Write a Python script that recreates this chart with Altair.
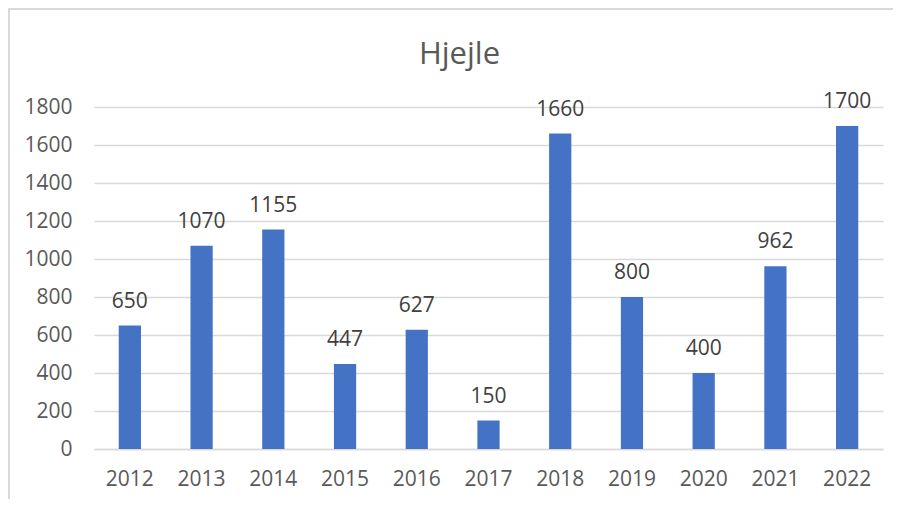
import altair as alt
import pandas as pd

years = ["2012", "2013", "2014", "2015", "2016", "2017", "2018", "2019", "2020", "2021", "2022"]
values = [650, 1070, 1155, 447, 627, 150, 1660, 800, 400, 962, 1700]
y_ticks = [0, 200, 400, 600, 800, 1000, 1200, 1400, 1600, 1800]
title_text = "Hjejle"

df = pd.DataFrame({"year": years, "value": values})

FONT = "Open Sans"

x_enc = alt.X("year:N", sort=years,
              scale=alt.Scale(paddingInner=0.69, paddingOuter=0.345),
              axis=alt.Axis(title=None, labelAngle=0, labelFontSize=21, labelColor="#595959",
                            labelFont=FONT, labelPadding=19, ticks=False, domain=True,
                            domainColor="#d9d9d9", domainWidth=1.5, grid=False))
y_enc = alt.Y("value:Q", scale=alt.Scale(domain=[0, 1800], nice=False),
              axis=alt.Axis(title=None, values=y_ticks, format="d",
                            labelOverlap=False, labelFontSize=21,
                            labelColor="#595959", labelFont=FONT, labelPadding=22,
                            ticks=False, domain=False, grid=True, gridColor="#d9d9d9",
                            gridWidth=1.5))

base = alt.Chart(df)

bars = base.mark_bar(color="#4472C4").encode(x=x_enc, y=y_enc)

labels = base.mark_text(baseline="alphabetic", dy=-18, fontSize=21, font=FONT,
                        color="#404040").encode(
    x=x_enc,
    y=y_enc,
    text=alt.Text("value:Q"),
)

frame = alt.Chart(alt.Data(values=[{}])).mark_rect(
    filled=False, stroke="#d9d9d9", strokeWidth=2, clip=False
).encode(
    x=alt.value(-85), x2=alt.value(900), y=alt.value(-98), y2=alt.value(420)
)

chart = alt.layer(bars, labels, frame).properties(
    width=789, height=342,
    title=alt.TitleParams(title_text, fontSize=31, font=FONT, color="#595959",
                          fontWeight="normal", anchor="middle", dx=-29, offset=-63),
    autosize=alt.AutoSizeParams(type="none"),
    padding={"left": 86, "top": 99, "right": 10, "bottom": 50},
).configure_view(stroke=None)

chart.save("out.html", embed_options={"renderer": "svg", "actions": False})
